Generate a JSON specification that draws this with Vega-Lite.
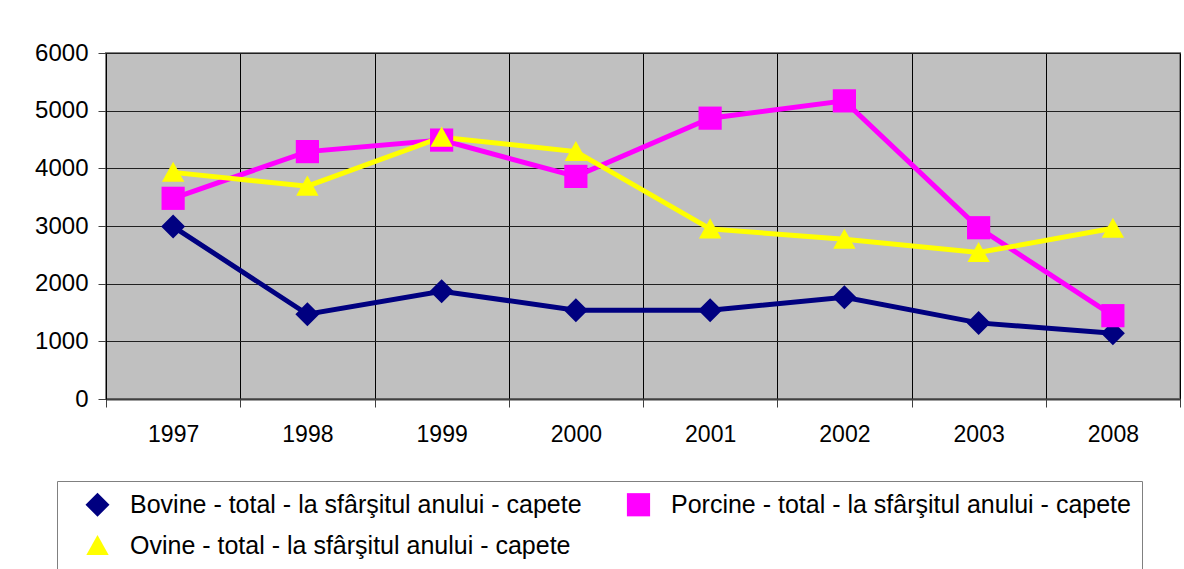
{
  "$schema": "https://vega.github.io/schema/vega-lite/v6.json",
  "width": 1074,
  "height": 346,
  "autosize": {"type": "none"},
  "padding": {"left": 106, "top": 53, "right": 4, "bottom": 170},
  "background": "white",
  "config": {
    "font": "Liberation Sans",
    "view": {"fill": "#C0C0C0", "stroke": "#808080", "strokeWidth": 2}
  },
  "data": {
    "values": [
      {"year": "1997", "series": "Bovine - total - la sfârşitul anului - capete", "value": 2990},
      {"year": "1998", "series": "Bovine - total - la sfârşitul anului - capete", "value": 1470},
      {"year": "1999", "series": "Bovine - total - la sfârşitul anului - capete", "value": 1870},
      {"year": "2000", "series": "Bovine - total - la sfârşitul anului - capete", "value": 1540},
      {"year": "2001", "series": "Bovine - total - la sfârşitul anului - capete", "value": 1540},
      {"year": "2002", "series": "Bovine - total - la sfârşitul anului - capete", "value": 1765},
      {"year": "2003", "series": "Bovine - total - la sfârşitul anului - capete", "value": 1320},
      {"year": "2008", "series": "Bovine - total - la sfârşitul anului - capete", "value": 1140},
      {"year": "1997", "series": "Porcine - total - la sfârşitul anului - capete", "value": 3480},
      {"year": "1998", "series": "Porcine - total - la sfârşitul anului - capete", "value": 4290},
      {"year": "1999", "series": "Porcine - total - la sfârşitul anului - capete", "value": 4490},
      {"year": "2000", "series": "Porcine - total - la sfârşitul anului - capete", "value": 3860},
      {"year": "2001", "series": "Porcine - total - la sfârşitul anului - capete", "value": 4870},
      {"year": "2002", "series": "Porcine - total - la sfârşitul anului - capete", "value": 5170},
      {"year": "2003", "series": "Porcine - total - la sfârşitul anului - capete", "value": 2970},
      {"year": "2008", "series": "Porcine - total - la sfârşitul anului - capete", "value": 1445},
      {"year": "1997", "series": "Ovine - total - la sfârşitul anului - capete", "value": 3930},
      {"year": "1998", "series": "Ovine - total - la sfârşitul anului - capete", "value": 3690},
      {"year": "1999", "series": "Ovine - total - la sfârşitul anului - capete", "value": 4540},
      {"year": "2000", "series": "Ovine - total - la sfârşitul anului - capete", "value": 4290},
      {"year": "2001", "series": "Ovine - total - la sfârşitul anului - capete", "value": 2950},
      {"year": "2002", "series": "Ovine - total - la sfârşitul anului - capete", "value": 2770},
      {"year": "2003", "series": "Ovine - total - la sfârşitul anului - capete", "value": 2540},
      {"year": "2008", "series": "Ovine - total - la sfârşitul anului - capete", "value": 2960}
    ]
  },
  "encoding": {
    "x": {
      "field": "year", "type": "nominal", "title": null,
      "scale": {"paddingInner": 0, "paddingOuter": 0},
      "axis": {
        "labelAngle": 0, "labelFontSize": 23, "labelColor": "black",
        "tickBand": "extent", "tickSize": 8, "tickColor": "#404040",
        "labelPadding": 16,
        "domainColor": "#404040", "domainWidth": 2,
        "grid": true, "gridColor": "black", "gridWidth": 1
      }
    },
    "y": {
      "field": "value", "type": "quantitative", "title": null,
      "scale": {"domain": [0, 6000], "nice": false},
      "axis": {
        "values": [0, 1000, 2000, 3000, 4000, 5000, 6000],
        "format": "d",
        "labelFontSize": 24, "labelColor": "black",
        "tickSize": 8, "tickColor": "#404040", "labelPadding": 10,
        "domainColor": "black", "domainWidth": 1,
        "grid": true, "gridColor": "#202020", "gridWidth": 1
      }
    },
    "color": {
      "field": "series", "type": "nominal",
      "scale": {
        "domain": ["Bovine - total - la sfârşitul anului - capete", "Porcine - total - la sfârşitul anului - capete", "Ovine - total - la sfârşitul anului - capete"],
        "range": ["#000080", "#FF00FF", "#FFFF00"]
      },
      "legend": {
        "title": null,
        "orient": "none",
        "legendX": -49,
        "legendY": 428,
        "direction": "horizontal",
        "columns": 2,
        "columnPadding": 27,
        "rowPadding": 15,
        "padding": 11,
        "strokeColor": "#808080",
        "fillColor": "white",
        "labelFontSize": 25,
        "labelColor": "black",
        "labelLimit": 1000,
        "symbolSize": 400,
        "symbolOffset": 17,
        "labelOffset": 20,
        "symbolStrokeWidth": 0,
        "symbolOpacity": 1
      }
    }
  },
  "layer": [
    {
      "mark": {"type": "line", "strokeWidth": 5}
    },
    {
      "mark": {"type": "point", "filled": true, "opacity": 1, "strokeWidth": 0},
      "encoding": {
        "shape": {
          "field": "series", "type": "nominal",
          "scale": {
            "domain": ["Bovine - total - la sfârşitul anului - capete", "Porcine - total - la sfârşitul anului - capete", "Ovine - total - la sfârşitul anului - capete"],
            "range": ["diamond", "square", "M0,-0.95L1,0.85L-1,0.85Z"]
          },
          "legend": null
        },
        "size": {
          "field": "series", "type": "nominal",
          "scale": {
            "domain": ["Bovine - total - la sfârşitul anului - capete", "Porcine - total - la sfârşitul anului - capete", "Ovine - total - la sfârşitul anului - capete"],
            "range": [576, 500, 600]
          },
          "legend": null
        }
      }
    }
  ]
}
